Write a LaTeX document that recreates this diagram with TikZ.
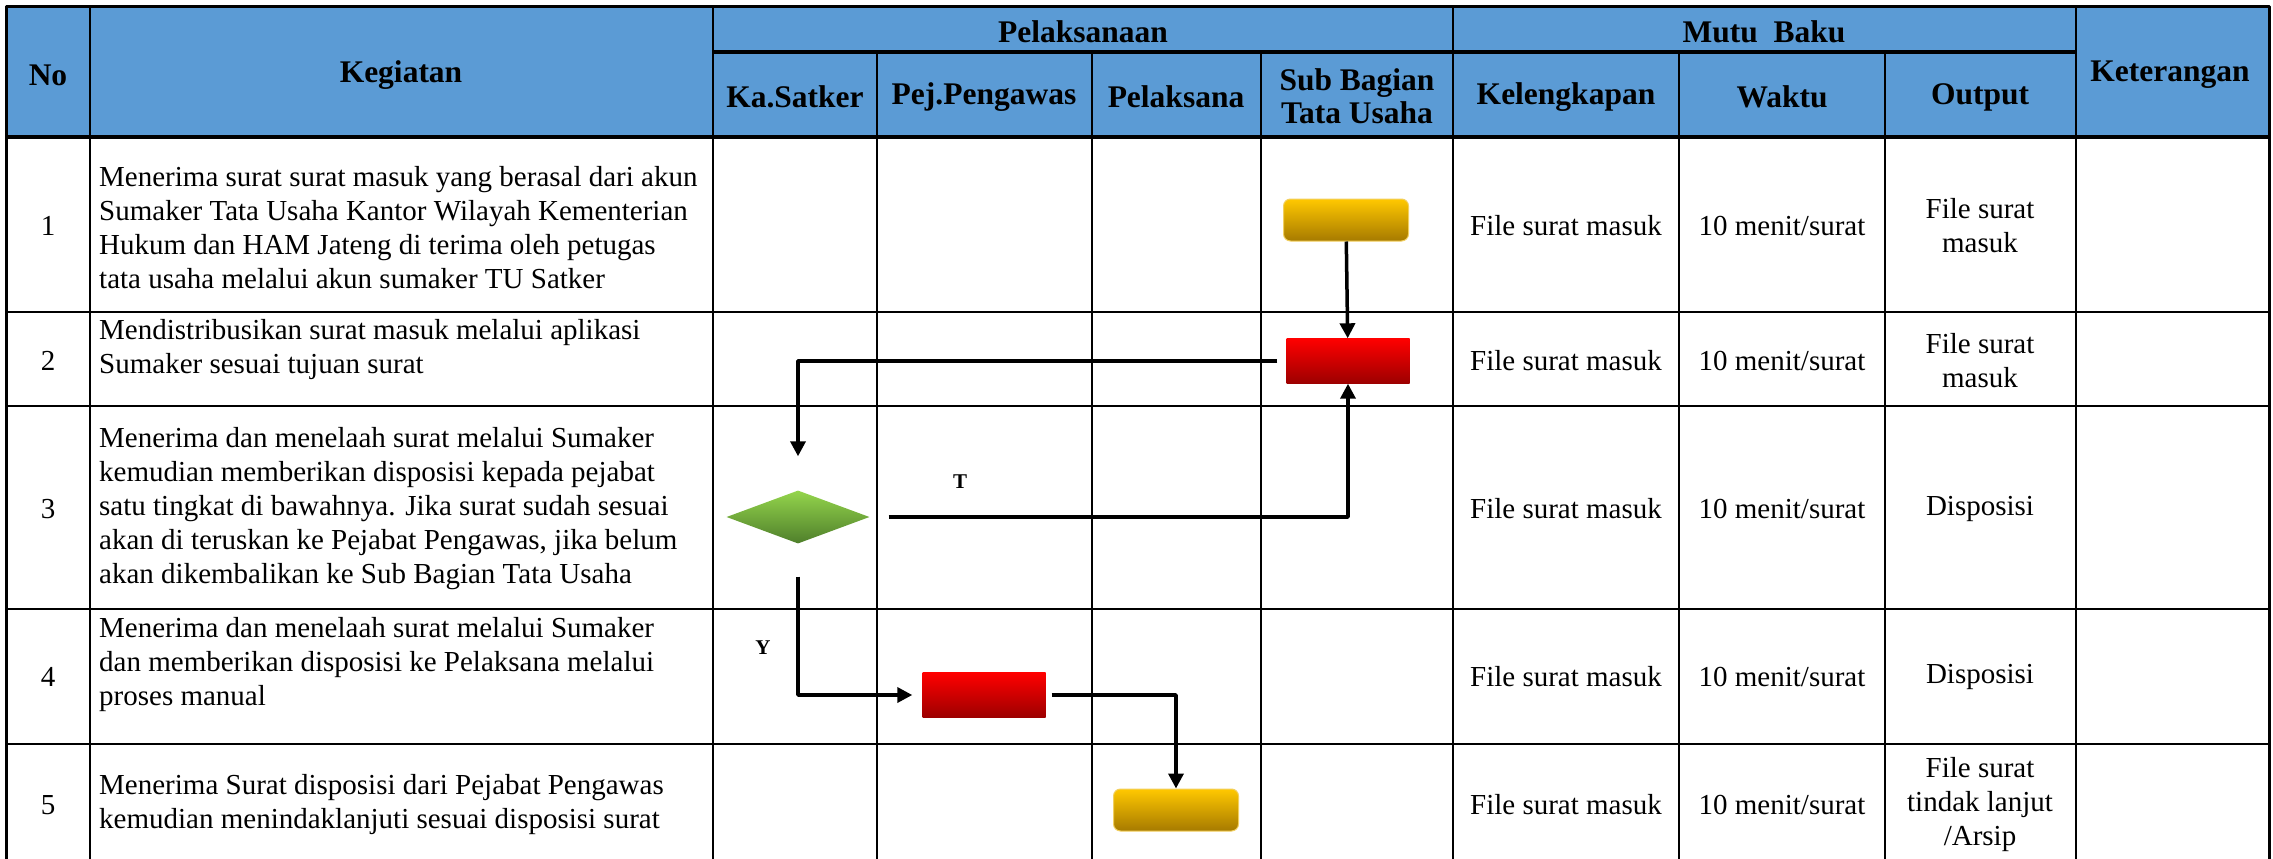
\documentclass[tikz,border=0pt]{standalone}
\usepackage{fontspec}
\setmainfont{Liberation Serif}
\usetikzlibrary{arrows.meta,shapes.geometric}
\definecolor{hdrblue}{HTML}{5B9BD5}
\definecolor{ytop}{HTML}{FFC800}
\definecolor{ybot}{HTML}{A67A00}
\definecolor{yline}{HTML}{F2D060}
\definecolor{rtop}{HTML}{FF0000}
\definecolor{rbot}{HTML}{9C0000}
\definecolor{gtop}{HTML}{94D54C}
\definecolor{gbot}{HTML}{4F7F2B}
\begin{document}
\begin{tikzpicture}[x=1pt, y=-1pt, line join=round,
	grid/.style={line width=2pt},
	heavy/.style={line width=3.5pt},
	hdr/.style={font=\fontsize{31.5}{33}\selectfont\bfseries, align=center},
	txt/.style={font=\fontsize{29}{34}\selectfont, align=center, inner sep=0pt},
	yn/.style={font=\fontsize{21}{21}\selectfont\bfseries},
	flow/.style={line width=3.5pt, -{Triangle[length=15pt,width=15pt]}},
	startend/.style={rounded corners=7pt, minimum width=125pt, minimum height=42pt, draw=yline, line width=1pt, top color=ytop, bottom color=ybot},
	process/.style={minimum width=123pt, minimum height=45pt, top color=rtop, bottom color=rbot},
	decision/.style={diamond, inner sep=0pt, minimum width=143pt, minimum height=53pt, top color=gtop, bottom color=gbot}]
	\useasboundingbox (0,0) rectangle (2273,859);
	% header band
	\fill[hdrblue] (6,7) rectangle (2269,137);
	\foreach \x in {90,713,1453,2076}{\draw[grid] (\x,7) -- (\x,859);}
	\foreach \x in {877,1092,1261,1679,1885}{\draw[grid] (\x,52) -- (\x,859);}
	\foreach \y in {312,406,609,744}{\draw[grid] (6,\y) -- (2269,\y);}
	\draw[heavy] (713,52) -- (2076,52) (6,137) -- (2269,137);
	\draw[line width=3pt] (6,859) -- (6,7) -- (2269,7) -- (2269,859);
	% header texts
	\foreach \p/\x/\y/\t in {hNo/48/75/No, hKeg/401/75/Kegiatan, hPel/1083/32/Pelaksanaan,
		hKa/795/97/Ka.Satker, hPej/984/97/Pej.Pengawas, hPls/1176/97/Pelaksana,
		hSub/1357/96/{Sub Bagian\\Tata Usaha}, hMutu/1764/32/{Mutu\ \ Baku},
		hKel/1566/97/Kelengkapan, hWak/1782/97/Waktu, hOut/1980/97/Output, hKet/2170/75/Keterangan}{
		\node[hdr] (\p) at (\x,\y) {\t};}
	% row texts
	\foreach \n/\y/\t in {1/228/{Menerima surat surat masuk yang berasal dari akun\\Sumaker Tata Usaha Kantor Wilayah Kementerian\\Hukum dan HAM Jateng di terima oleh petugas\\tata usaha melalui akun sumaker TU Satker},
		2/350/{Mendistribusikan surat masuk melalui aplikasi\\Sumaker sesuai tujuan surat},
		3/509/{Menerima dan menelaah surat melalui Sumaker\\kemudian memberikan disposisi kepada pejabat\\satu tingkat di bawahnya. Jika surat sudah sesuai\\akan di teruskan ke Pejabat Pengawas, jika belum\\akan dikembalikan ke Sub Bagian Tata Usaha},
		4/665/{Menerima dan menelaah surat melalui Sumaker\\dan memberikan disposisi ke Pelaksana melalui\\proses manual},
		5/805/{Menerima Surat disposisi dari Pejabat Pengawas\\kemudian menindaklanjuti sesuai disposisi surat}}{
		\node[txt, align=left, anchor=west] (keg\n) at (99,\y) {\t};}
	\foreach \n/\y/\t in {1/226/{File surat\\masuk}, 2/361/{File surat\\masuk}, 3/509/Disposisi, 4/677/Disposisi, 5/805/{File surat\\tindak lanjut\\/Arsip}}{
		\node[txt] (no\n) at (48,\y) {\n};
		\node[txt] (kel\n) at (1566,\y) {File surat masuk};
		\node[txt] (wak\n) at (1782,\y) {10 menit/surat};
		\node[txt] (out\n) at (1980,\y) {\t};}
	% flow shapes
	\node[startend] (mulai) at (1346,220) {};
	\node[process] (distri) at (1348,361) {};
	\node[decision] (telaah) at (798,517) {};
	\node[process] (dispo) at (984,695) {};
	\node[startend] (selesai) at (1176,810) {};
	\node[yn] (labT) at (960,482) {T};
	\node[yn] (labY) at (763,648) {Y};
	% connectors
	\draw[flow] (mulai) -- (distri);
	\draw[flow, shorten <=9pt, shorten >=34pt] (distri.west) -| (telaah.north);
	\draw[flow, shorten <=19pt] (telaah.east) -| (distri.south);
	\draw[flow, shorten <=33pt, shorten >=10pt] (telaah.south) |- (dispo.west);
	\draw[flow, shorten <=6pt] (dispo.east) -| (selesai.north);
\end{tikzpicture}
\end{document}
